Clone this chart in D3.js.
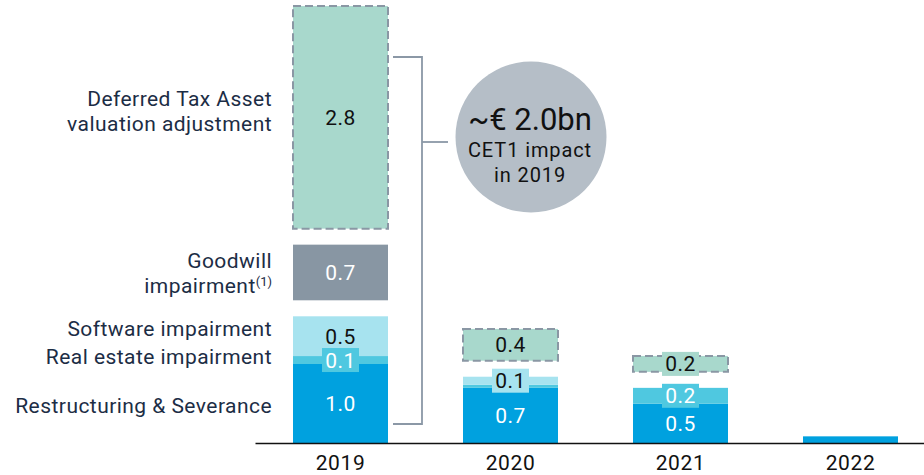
<html>
<head>
  <script src="https://cdn.jsdelivr.net/npm/d3@7/dist/d3.min.js"></script>
  <style>
      body { margin: 0; background: #fff; }
      text { font-family: Roboto, "Noto Sans", sans-serif; }
  </style>
</head>
<body>
<svg width="924" height="475" id="chart"></svg>
<script>
  // data (EUR bn)
  var years = ["2019", "2020", "2021", "2022"];
  var restructuring = [1.0, 0.7, 0.5, 0.09];
  var realEstate = [0.1, 0.04, 0.2, 0];
  var software = [0.5, 0.1, 0, 0];
  var goodwill = [0.7, 0, 0, 0];
  var dta = [2.8, 0.4, 0.2, 0];
  var categoryNames = ["Restructuring & Severance", "Real estate impairment", "Software impairment",
    "Goodwill\nimpairment", "Deferred Tax Asset\nvaluation adjustment"];
  var bubbleText = ["~€ 2.0bn", "CET1 impact", "in 2019"];

  var svg = d3.select("#chart"),
    baseY = 443.5,
    gapPx = 16;

  var x = d3.scaleBand().domain(years).range([255.5, 935.5]).paddingInner(0.4412).paddingOuter(0.2206);
  var y = d3.scaleLinear().domain([0, 1]).range([0, 79.5]); // value -> pixel height

  var series = [
    {key: "restructuring", vals: restructuring, fill: "#00a1df", text: "#fff", gapBefore: false},
    {key: "realEstate", vals: realEstate, fill: "#4fc8e0", text: "#fff", gapBefore: false},
    {key: "software", vals: software, fill: "#a7e3ef", text: "#111", gapBefore: false},
    {key: "goodwill", vals: goodwill, fill: "#8896a3", text: "#fff", gapBefore: true},
    {key: "dta", vals: dta, fill: "#a8d8cc", text: "#111", gapBefore: true, dashed: true}
  ];

  // stack with pixel gaps between blocks
  var segs = [];
  years.forEach(function(yr, i) {
    var top = baseY;
    series.forEach(function(s, si) {
      var v = s.vals[i];
      if (!v) return;
      if (s.gapBefore && top < baseY) top -= gapPx;
      var h = y(v);
      segs.push({year: yr, s: s, si: si, v: v, y0: top - h, y1: top});
      top -= h;
    });
  });

  var g = svg.append("g");

  // bars
  g.selectAll("rect.seg").data(segs).enter().append("rect")
    .attr("class", "seg")
    .attr("x", function(d) { return x(d.year); })
    .attr("width", x.bandwidth())
    .attr("y", function(d) { return d.y0; })
    .attr("height", function(d) { return d.y1 - d.y0; })
    .attr("fill", function(d) { return d.s.fill; })
    .attr("stroke", function(d) { return d.s.dashed ? "#8a97a4" : "none"; })
    .attr("stroke-width", 2)
    .attr("stroke-dasharray", function(d) { return d.s.dashed ? "8,4" : null; });

  // value labels with colour box
  var lab = segs.filter(function(d) { return d.v >= 0.095; });
  var lg = g.selectAll("g.lab").data(lab).enter().append("g").attr("class", "lab")
    .attr("transform", function(d) {
      return "translate(" + (x(d.year) + x.bandwidth() / 2) + "," + ((d.y0 + d.y1) / 2) + ")";
    });
  lg.filter(function(d) { return d.y1 - d.y0 < 24; }).append("rect")
    .attr("x", -18.5).attr("y", -12).attr("width", 37).attr("height", 24)
    .attr("fill", function(d) { return d.s.fill; });
  lg.append("text")
    .attr("text-anchor", "middle")
    .attr("dy", "0.36em")
    .attr("font-size", 21)
    .attr("letter-spacing", 0.5)
    .attr("fill", function(d) { return d.s.text; })
    .text(function(d) { return d3.format(".1f")(d.v); });

  // category labels on the left, from 2019 segments
  var nudge = [2, -3, -7, 1, -6];
  var first = segs.filter(function(d) { return d.year === years[0]; });
  first.forEach(function(d) {
    var lines = categoryNames[d.si].split("\n");
    var mid = (d.y0 + d.y1) / 2 + nudge[d.si];
    var t = svg.append("text")
      .attr("text-anchor", "end")
      .attr("font-size", 21)
      .attr("letter-spacing", 0.45)
      .attr("fill", "#1c2d45");
    lines.forEach(function(l, li) {
      var ts = t.append("tspan")
        .attr("x", 272)
        .attr("y", mid + 7 + (li - (lines.length - 1) / 2) * 25)
        .text(l);
      if (d.s.key === "goodwill" && li === 1) {
        ts.append("tspan").attr("font-size", 13).attr("letter-spacing", 0)
          .attr("dy", -7).text("(1)");
      }
    });
  });

  // x axis
  svg.append("line").attr("x1", 255.5).attr("x2", 924).attr("y1", baseY).attr("y2", baseY)
    .attr("stroke", "#111").attr("stroke-width", 1.6);
  svg.selectAll("text.tick").data(years).enter().append("text")
    .attr("class", "tick")
    .attr("x", function(d) { return x(d) + x.bandwidth() / 2; })
    .attr("y", 470)
    .attr("text-anchor", "middle")
    .attr("font-size", 21)
    .attr("letter-spacing", 0.6)
    .attr("fill", "#111")
    .text(function(d) { return d; });

  // bracket
  var bx0 = x(years[0]) + x.bandwidth() + 5, bx1 = bx0 + 29;
  var br = svg.append("g").attr("stroke", "#8b98a6").attr("stroke-width", 1.8).attr("fill", "none");
  br.append("path").attr("d", "M" + bx0 + ",57H" + bx1 + "V424H" + bx0);
  br.append("line").attr("x1", bx1).attr("x2", bx1 + 26).attr("y1", 142).attr("y2", 142);

  // bubble
  svg.append("circle").attr("cx", 531).attr("cy", 137).attr("r", 75.5).attr("fill", "#b5bec7");
  svg.append("text").attr("x", 530).attr("y", 130).attr("text-anchor", "middle")
    .attr("font-size", 31).attr("fill", "#111").text(bubbleText[0]);
  svg.append("text").attr("x", 530).attr("y", 157).attr("text-anchor", "middle")
    .attr("font-size", 20).attr("letter-spacing", 0.9).attr("fill", "#111").text(bubbleText[1]);
  svg.append("text").attr("x", 530).attr("y", 182).attr("text-anchor", "middle")
    .attr("font-size", 20).attr("letter-spacing", 0.9).attr("fill", "#111").text(bubbleText[2]);
</script>
</body>
</html>
